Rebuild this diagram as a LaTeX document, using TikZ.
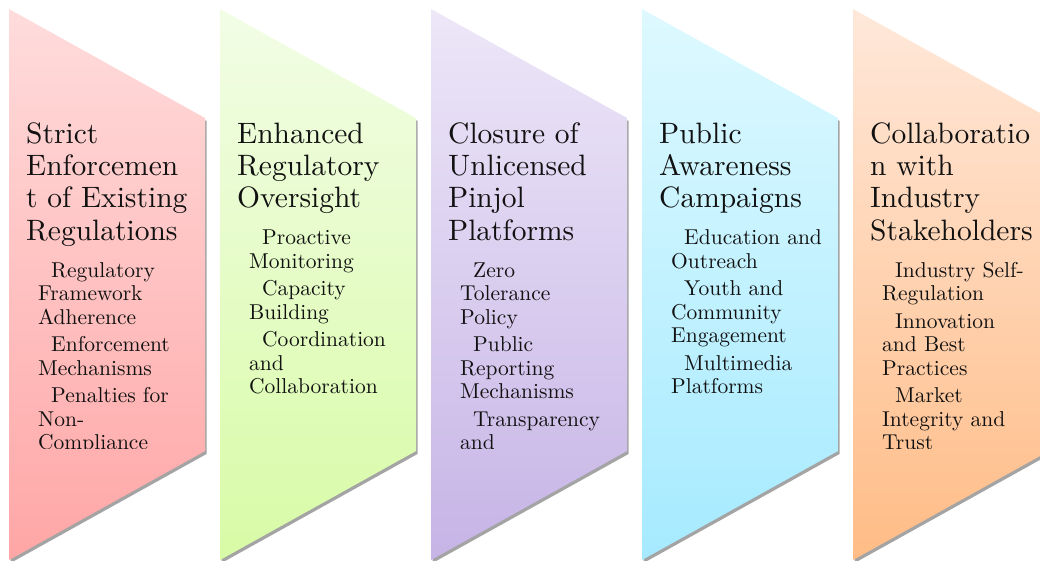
\documentclass[tikz,border=0pt]{standalone}
\usepackage{fontspec}
% Latin Modern at its 10pt design size for every text size
\newfontfamily\lmten{lmroman10-regular}[Extension=.otf]

\definecolor{redtop}{HTML}{FFDCDC}   \definecolor{redbot}{HTML}{FFA6A6}
\definecolor{greentop}{HTML}{F2FDE6} \definecolor{greenbot}{HTML}{D8FBA6}
\definecolor{violettop}{HTML}{EDE7F8}\definecolor{violetbot}{HTML}{C6B4E6}
\definecolor{cyantop}{HTML}{DEF9FF}  \definecolor{cyanbot}{HTML}{A6EAFF}
\definecolor{orangetop}{HTML}{FFE8DA}\definecolor{orangebot}{HTML}{FFBC86}
\definecolor{panelshade}{HTML}{A4A4A4}
\definecolor{ink}{HTML}{111111}

% heading block: first baseline is the node's base
\newcommand\headblock[1]{\parbox[t]{200pt}{\raggedright\lmten
  \fontsize{29.5}{32.3}\selectfont #1}}
% sub-point block: each paragraph is one point, first line indented
\newcommand\pointblock[1]{\parbox[t]{200pt}{\raggedright\lmten
  \fontsize{21.5}{23.5}\selectfont\setlength\parindent{13pt}%
  \setlength\parskip{4pt}#1}}

% one slanted panel: #1 left x, #2 top colour, #3 bottom colour, #4 name
\newcommand\drawpanel[4]{%
  \fill[panelshade, shift={(1.5,3)}]
    (#1,9) -- ++(196,109) -- ++(0,333) -- ++(-196,109) -- cycle;
  \path[top color=#2, bottom color=#3]
    (#1,9) coordinate (#4-nw) -- ++(196,109) coordinate (#4-ne)
    -- ++(0,333) coordinate (#4-se) -- ++(-196,109) coordinate (#4-sw) -- cycle;
}

\begin{document}
\begin{tikzpicture}[x=1pt, y=-1pt,
  headtext/.style={anchor=base west, inner sep=0pt, text=ink},
  pointtext/.style={anchor=base west, inner sep=0pt, text=ink}]
\useasboundingbox (0,0) rectangle (1040,560);

\drawpanel{9}{redtop}{redbot}{p1}
\drawpanel{220}{greentop}{greenbot}{p2}
\drawpanel{431}{violettop}{violetbot}{p3}
\drawpanel{642}{cyantop}{cyanbot}{p4}
\drawpanel{853}{orangetop}{orangebot}{p5}

\begin{scope}
\clip (0,0) rectangle (1040,448);

% panel 1
\node[headtext] (h1) at (26,143.3)
  {\headblock{Strict\newline Enforcemen\newline t of Existing\newline Regulations}};
\node[pointtext] (s1) at (38,277.2)
  {\pointblock{Regulatory\newline Framework\newline Adherence\par
   Enforcement\newline Mechanisms\par
   Penalties for\newline Non-\newline Compliance}};

% panel 2
\node[headtext] (h2) at (237,143.3)
  {\headblock{Enhanced\newline Regulatory\newline Oversight}};
\node[pointtext] (s2) at (249,244.9)
  {\pointblock{Proactive\newline Monitoring\par
   Capacity\newline Building\par
   Coordination\newline and\newline Collaboration}};

% panel 3
\node[headtext] (h3) at (448,143.3)
  {\headblock{Closure of\newline Unlicensed\newline Pinjol\newline Platforms}};
\node[pointtext] (s3) at (460,277.2)
  {\pointblock{Zero\newline Tolerance\newline Policy\par
   Public\newline Reporting\newline Mechanisms\par
   Transparency\newline and\newline Accountability}};

% panel 4
\node[headtext] (h4) at (659,143.3)
  {\headblock{Public\newline Awareness\newline Campaigns}};
\node[pointtext] (s4) at (671,244.9)
  {\pointblock{Education and\newline Outreach\par
   Youth and\newline Community\newline Engagement\par
   Multimedia\newline Platforms}};

% panel 5
\node[headtext] (h5) at (870,143.3)
  {\headblock{Collaboratio\newline n with\newline Industry\newline Stakeholders}};
\node[pointtext] (s5) at (882,277.2)
  {\pointblock{Industry Self-\newline Regulation\par
   Innovation\newline and Best\newline Practices\par
   Market\newline Integrity and\newline Trust}};
\end{scope}
\end{tikzpicture}
\end{document}
